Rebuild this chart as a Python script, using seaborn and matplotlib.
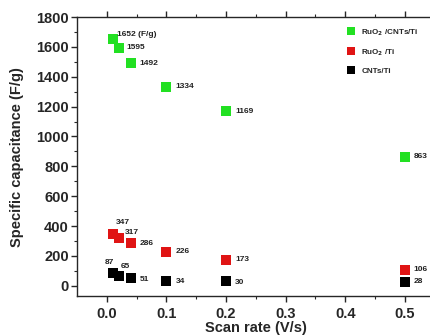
import seaborn as sns
import matplotlib.pyplot as plt
import pandas as pd

sns.set_theme(style='ticks')
plt.rcParams['font.family'] = ['Liberation Sans', 'DejaVu Sans']
plt.rcParams['font.weight'] = 'bold'

scan_rate = [0.01, 0.02, 0.04, 0.1, 0.2, 0.5]
ruo2_cnts = [1652, 1595, 1492, 1334, 1169, 863]
ruo2 = [347, 317, 286, 226, 173, 106]
cnts = [87, 65, 51, 34, 30, 28]
series = ['RuO$_2$ /CNTs/Ti', 'RuO$_2$ /Ti', 'CNTs/Ti']
colors = ['#22e022', '#e01414', '#000000']

# text labels next to points
labels_green = ['1652 (F/g)', '1595', '1492', '1334', '1169', '863']
labels_red = ['347', '317', '286', '226', '173', '106']
labels_black = ['87', '65', '51', '34', '30', '28']

df = pd.DataFrame({
    'x': scan_rate * 3,
    'y': ruo2_cnts + ruo2 + cnts,
    'sample': [s for s in series for _ in scan_rate],
})

fig = plt.figure(figsize=(4.3, 3.35), dpi=100)
ax = fig.add_axes([0.179, 0.116, 0.832, 0.833])

sns.scatterplot(data=df, x='x', y='y', hue='sample', palette=colors,
                marker='s', s=52, linewidth=0, ax=ax)

# offsets in pixels (dx, dy, ha)
off_green = [(4, 5, 'left'), (8, 0, 'left'), (9, 0, 'left'), (9, 0, 'left'), (9, 0, 'left'), (9, 0, 'left')]
off_red = [(10, 11, 'center'), (6, 6, 'left'), (9, 0, 'left'), (9, 0, 'left'), (9, 0, 'left'), (9, 0, 'left')]
off_black = [(-3, 10, 'center'), (7, 9, 'center'), (9, -1, 'left'), (9, -1, 'left'), (9, -1, 'left'), (9, 0, 'left')]

for vals, labs, offs in [(ruo2_cnts, labels_green, off_green),
                         (ruo2, labels_red, off_red),
                         (cnts, labels_black, off_black)]:
    for xv, yv, lab, (dx, dy, ha) in zip(scan_rate, vals, labs, offs):
        ax.annotate(lab, (xv, yv), xytext=(dx, dy), textcoords='offset pixels',
                    ha=ha, va='center', fontsize=6, fontweight='bold',
                    color='#222222')

ax.set_xlim(-0.05, 0.55)
ax.set_ylim(-70, 1800)
ax.set_xticks([0.0, 0.1, 0.2, 0.3, 0.4, 0.5])
ax.set_xticks([0.05, 0.15, 0.25, 0.35, 0.45], minor=True)
ax.set_yticks(range(0, 1801, 200))
ax.set_yticks(range(100, 1800, 200), minor=True)
ax.set_xticklabels(['0.0', '0.1', '0.2', '0.3', '0.4', '0.5'])
ax.tick_params(axis='both', which='major', labelsize=10.5, length=4, width=1, top=True, direction='out')
ax.tick_params(axis='x', which='major', pad=4)
ax.tick_params(axis='y', which='major', pad=2)
ax.tick_params(axis='both', which='minor', length=2.5, width=0.8, top=True, direction='out')
for lab in ax.get_xticklabels() + ax.get_yticklabels():
    lab.set_fontweight('bold')

ax.set_xlabel('Scan rate (V/s)', fontsize=10.5, fontweight='bold', labelpad=0)
ax.set_ylabel('Specific capacitance (F/g)', fontsize=10.5, fontweight='bold')
ax.yaxis.set_label_coords((24 - 77) / (0.832 * 430), 0.5)

for sp in ax.spines.values():
    sp.set_linewidth(1)
ax.spines['right'].set_visible(False)

leg = ax.legend(loc='upper right', bbox_to_anchor=(0.975, 0.99), frameon=False,
                fontsize=5.8, markerscale=0.75, handletextpad=0.3, labelspacing=1.2)
for t in leg.get_texts():
    t.set_fontweight('bold')

plt.savefig('out.png', dpi=100)
